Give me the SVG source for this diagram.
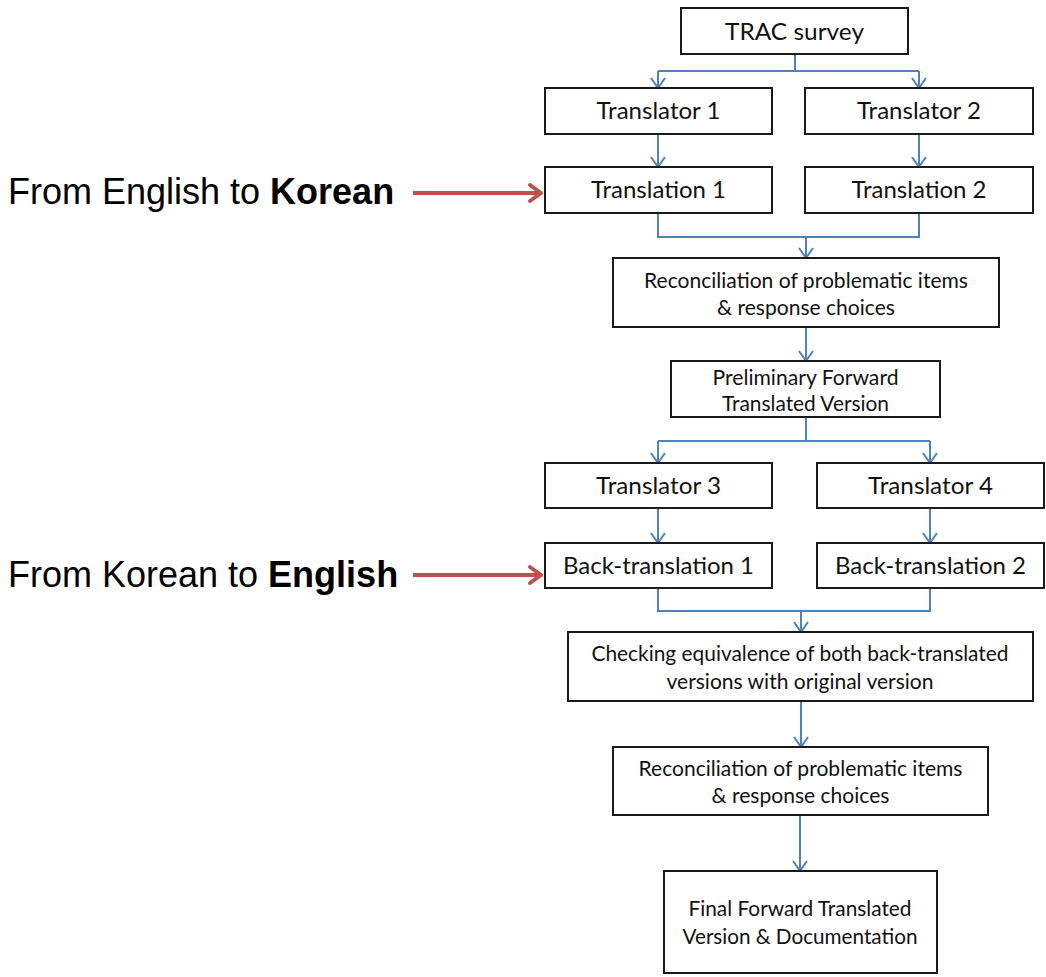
<svg xmlns="http://www.w3.org/2000/svg" width="1046" height="977" viewBox="0 0 1046 977">
<defs>
<marker id="ab" viewBox="0 0 20 20" refX="18" refY="10" markerWidth="20" markerHeight="20" markerUnits="userSpaceOnUse" orient="auto">
<path d="M8,3 L18,10 L8,17" fill="none" stroke="#4F81BD" stroke-width="2"/>
</marker>
<marker id="ar" viewBox="0 0 30 24" refX="27" refY="12" markerWidth="30" markerHeight="24" markerUnits="userSpaceOnUse" orient="auto">
<path d="M15,4 L26,12 L15,20" fill="none" stroke="#C0504D" stroke-width="4" stroke-linejoin="round" stroke-linecap="round"/>
</marker>
</defs>
<style>
.box{fill:#fff;stroke:#1a1a1a;stroke-width:2}
.t{font-family:Lato,"Liberation Sans",sans-serif;font-size:23px;fill:#111;text-anchor:middle}
.s{font-size:21px}
.c{fill:none;stroke:#4F81BD;stroke-width:2}
.red{fill:none;stroke:#C0504D;stroke-width:4}
.lbl{font-family:"Liberation Sans",Arial,sans-serif;font-size:36px;fill:#000}
</style>
<rect width="1046" height="977" fill="#fff"/>
<g id="connectors">
<path class="c" d="M795,54 V71 M658,71 H919"/>
<path class="c" d="M658,71 V88" marker-end="url(#ab)"/>
<path class="c" d="M919,71 V88" marker-end="url(#ab)"/>
<path class="c" d="M658,134 V167" marker-end="url(#ab)"/>
<path class="c" d="M919,134 V167" marker-end="url(#ab)"/>
<path class="c" d="M658,213 V237 H919 V213"/>
<path class="c" d="M806,237 V258" marker-end="url(#ab)"/>
<path class="c" d="M806,327 V361" marker-end="url(#ab)"/>
<path class="c" d="M806,417 V441 M658,441 H930"/>
<path class="c" d="M658,441 V463" marker-end="url(#ab)"/>
<path class="c" d="M930,441 V463" marker-end="url(#ab)"/>
<path class="c" d="M658,508 V543" marker-end="url(#ab)"/>
<path class="c" d="M930,508 V543" marker-end="url(#ab)"/>
<path class="c" d="M658,588 V611 H930 V588"/>
<path class="c" d="M801,611 V632" marker-end="url(#ab)"/>
<path class="c" d="M801,701 V747" marker-end="url(#ab)"/>
<path class="c" d="M800,815 V871" marker-end="url(#ab)"/>
<path class="red" d="M413,193 H542" marker-end="url(#ar)"/>
<path class="red" d="M413,575 H542" marker-end="url(#ar)"/>
</g>
<g id="trac"><rect class="box" x="681" y="8" width="227" height="46"/><text class="t" x="794.5" y="40" textLength="139" lengthAdjust="spacingAndGlyphs">TRAC survey</text></g>
<g id="translator1"><rect class="box" x="545" y="88" width="227" height="46"/><text class="t" x="658.5" y="119" textLength="124" lengthAdjust="spacingAndGlyphs">Translator 1</text></g>
<g id="translator2"><rect class="box" x="805" y="88" width="228" height="46"/><text class="t" x="919" y="119" textLength="124" lengthAdjust="spacingAndGlyphs">Translator 2</text></g>
<g id="translation1"><rect class="box" x="545" y="167" width="227" height="46"/><text class="t" x="658.5" y="198" textLength="135" lengthAdjust="spacingAndGlyphs">Translation 1</text></g>
<g id="translation2"><rect class="box" x="805" y="167" width="228" height="46"/><text class="t" x="919" y="198" textLength="135" lengthAdjust="spacingAndGlyphs">Translation 2</text></g>
<g id="reconciliation1"><rect class="box" x="613" y="258" width="386" height="69"/><text class="t s" x="806" y="288" textLength="324" lengthAdjust="spacingAndGlyphs">Reconciliation of problematic items</text><text class="t s" x="806" y="315" textLength="178" lengthAdjust="spacingAndGlyphs">&amp; response choices</text></g>
<g id="preliminary"><rect class="box" x="671" y="361" width="269" height="56"/><text class="t s" x="805.5" y="385" textLength="186" lengthAdjust="spacingAndGlyphs">Preliminary Forward</text><text class="t s" x="805.5" y="411" textLength="167" lengthAdjust="spacingAndGlyphs">Translated Version</text></g>
<g id="translator3"><rect class="box" x="545" y="463" width="227" height="45"/><text class="t" x="658.5" y="494" textLength="125" lengthAdjust="spacingAndGlyphs">Translator 3</text></g>
<g id="translator4"><rect class="box" x="817" y="463" width="227" height="45"/><text class="t" x="930.5" y="494" textLength="125" lengthAdjust="spacingAndGlyphs">Translator 4</text></g>
<g id="backtranslation1"><rect class="box" x="545" y="543" width="227" height="45"/><text class="t" x="658.5" y="574" textLength="191" lengthAdjust="spacingAndGlyphs">Back-translation 1</text></g>
<g id="backtranslation2"><rect class="box" x="817" y="543" width="227" height="45"/><text class="t" x="930.5" y="574" textLength="191" lengthAdjust="spacingAndGlyphs">Back-translation 2</text></g>
<g id="checking"><rect class="box" x="568" y="632" width="465" height="69"/><text class="t s" x="800" y="661" textLength="417" lengthAdjust="spacingAndGlyphs">Checking equivalence of both back-translated</text><text class="t s" x="800" y="689" textLength="267" lengthAdjust="spacingAndGlyphs">versions with original version</text></g>
<g id="reconciliation2"><rect class="box" x="613" y="747" width="375" height="68"/><text class="t s" x="800.5" y="776" textLength="324" lengthAdjust="spacingAndGlyphs">Reconciliation of problematic items</text><text class="t s" x="800.5" y="803" textLength="178" lengthAdjust="spacingAndGlyphs">&amp; response choices</text></g>
<g id="final"><rect class="box" x="664" y="871" width="273" height="102"/><text class="t s" x="800" y="916" textLength="223" lengthAdjust="spacingAndGlyphs">Final Forward Translated</text><text class="t s" x="800" y="944" textLength="235" lengthAdjust="spacingAndGlyphs">Version &amp; Documentation</text></g>
<g id="label1"><text class="lbl" x="8" y="204">From English to <tspan font-weight="bold">Korean</tspan></text></g>
<g id="label2"><text class="lbl" x="8" y="587">From Korean to <tspan font-weight="bold">English</tspan></text></g>
</svg>
